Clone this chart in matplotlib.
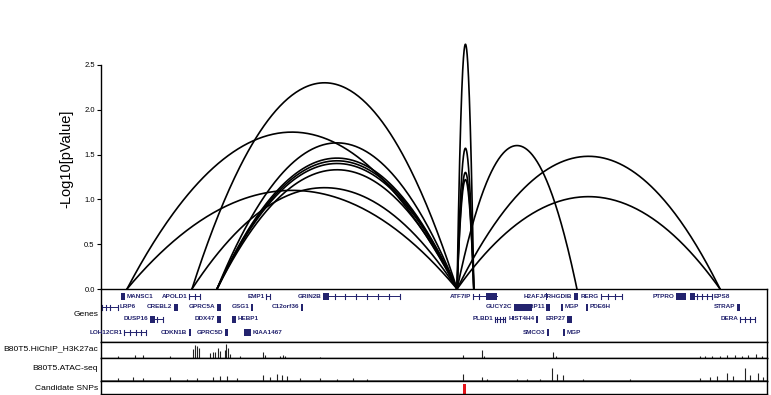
import matplotlib.pyplot as plt
import matplotlib.patches as mpatches
import numpy as np

plt.rcParams["font.family"] = ["Liberation Sans", "DejaVu Sans"]

# ---- data -------------------------------------------------------------
# interactions: anchor start / end (Mb) and -log10 p
arc_start = [12.160, 12.160, 12.560, 12.560, 12.714, 12.714, 12.714, 12.714, 12.714,
             14.192, 14.192, 14.192, 14.192, 14.192, 14.192, 14.192]
arc_end = [14.192, 14.192, 14.192, 14.192, 14.192, 14.192, 14.192, 14.192, 14.192,
           14.295, 14.295, 14.295, 14.295, 14.930, 15.811, 15.811]
arc_score = [1.75, 1.10, 2.30, 1.13, 1.63, 1.46, 1.43, 1.40, 1.33,
             2.73, 1.57, 1.30, 1.22, 1.60, 1.48, 1.03]

# genes
gene_name = ["MANSC1", "APOLD1", "EMP1", "GRIN2B", "ATF7IP", "H2AFJ", "ARHGDIB", "RERG",
             "PTPRO", "EPS8",
             "LRP6", "CREBL2", "GPRC5A", "GSG1", "C12orf36", "GUCY2C", "WBP11", "MGP",
             "PDE6H", "STRAP",
             "DUSP16", "DDX47", "HEBP1", "PLBD1", "HIST4H4", "ERP27", "DERA",
             "LOH12CR1", "CDKN1B", "GPRC5D", "KIAA1467", "SMCO3", "MGP"]
gene_row = [0] * 10 + [1] * 10 + [2] * 7 + [3] * 6
gene_start = [12.123, 12.542, 13.016, 13.367, 14.290, 14.738, 14.912, 15.078, 15.540, 15.626,
              12.006, 12.449, 12.714, 12.923, 13.231, 14.542, 14.739, 14.832, 14.986, 15.915,
              12.302, 12.714, 12.806, 14.425, 14.678, 14.869, 15.934,
              12.142, 12.542, 12.763, 12.880, 14.746, 14.844]
gene_end = [12.148, 12.609, 13.040, 13.841, 14.438, 14.745, 14.936, 15.207, 15.601, 15.761,
            12.105, 12.474, 12.739, 12.936, 13.244, 14.653, 14.764, 14.844, 14.998, 15.934,
            12.382, 12.739, 12.831, 14.487, 14.690, 14.900, 16.026,
            12.277, 12.554, 12.782, 12.923, 14.758, 14.856]
gene_label_right = ["MANSC1", "EPS8", "LRP6", "MGP", "PDE6H", "HEBP1", "KIAA1467"]
# genes drawn as intron line + exon ticks: (block start, block end, exon ticks)
gene_structure = {
    "APOLD1": (None, None, [12.542, 12.579, 12.609]),
    "EMP1": (None, None, [13.016, 13.040]),
    "GRIN2B": (13.367, 13.405, [13.441, 13.502, 13.570, 13.638, 13.705, 13.773, 13.841]),
    "ATF7IP": (14.370, 14.438, [14.290, 14.330]),
    "RERG": (None, None, [15.078, 15.121, 15.164, 15.207]),
    "EPS8": (15.626, 15.655, [15.669, 15.700, 15.730, 15.761]),
    "LRP6": (None, None, [12.006, 12.031, 12.055, 12.105]),
    "DUSP16": (12.302, 12.330, [12.345, 12.382]),
    "PLBD1": (None, None, [14.425, 14.440, 14.455, 14.475, 14.487]),
    "DERA": (None, None, [15.934, 15.965, 15.995, 16.026]),
    "LOH12CR1": (None, None, [12.142, 12.179, 12.215, 12.246, 12.277]),
}

# HiChIP H3K27ac signal peaks (Mb, relative height)
k27_pos = [12.105, 12.209, 12.259, 12.425, 12.566, 12.579, 12.591, 12.603, 12.671, 12.689,
           12.702, 12.720, 12.733, 12.763, 12.770, 12.782, 12.794, 12.856, 12.997, 13.010,
           13.102, 13.120, 13.133, 13.348, 14.229, 14.345, 14.358, 14.783, 14.801, 15.688,
           15.718, 15.761, 15.811, 15.854, 15.903, 15.946, 15.983, 16.032, 16.069]
k27_val = [0.15, 0.20, 0.20, 0.15, 0.55, 0.80, 0.75, 0.60, 0.30, 0.40,
           0.35, 0.65, 0.45, 0.50, 0.85, 0.60, 0.25, 0.15, 0.40, 0.20,
           0.15, 0.20, 0.15, 0.08, 0.20, 0.50, 0.15, 0.35, 0.15, 0.15,
           0.10, 0.15, 0.15, 0.20, 0.20, 0.15, 0.20, 0.25, 0.15]

# ATAC-seq signal peaks
atac_pos = [12.105, 12.197, 12.259, 12.425, 12.529, 12.591, 12.689, 12.733, 12.776, 12.837,
            12.997, 13.040, 13.083, 13.114, 13.145, 13.225, 13.348, 13.453, 13.551, 13.637,
            14.229, 14.345, 14.376, 14.561, 14.622, 14.702, 14.776, 14.807, 14.844, 14.967,
            15.256, 15.688, 15.749, 15.792, 15.854, 15.891, 15.965, 15.995, 16.044, 16.075]
atac_val = [0.13, 0.17, 0.13, 0.17, 0.09, 0.13, 0.17, 0.22, 0.22, 0.13,
            0.26, 0.17, 0.30, 0.26, 0.22, 0.13, 0.13, 0.09, 0.13, 0.09,
            0.30, 0.17, 0.09, 0.09, 0.09, 0.09, 0.56, 0.30, 0.26, 0.09,
            0.09, 0.13, 0.17, 0.22, 0.35, 0.22, 0.56, 0.26, 0.35, 0.17]

snp_pos = [14.235]

XMIN, XMAX = 12.0, 16.1
NAVY = "#23236e"

# ---- figure -------------------------------------------------------------
fig = plt.figure(figsize=(7.71, 3.95), dpi=100)
L, W = 101 / 771, 666 / 771


def frac(top_px, bottom_px):
    return [L, 1 - bottom_px / 395, W, (bottom_px - top_px) / 395]


ax = fig.add_axes(frac(29, 289))
ax_g = fig.add_axes(frac(289, 342))
ax_k = fig.add_axes(frac(342, 358))
ax_a = fig.add_axes(frac(358, 381))
ax_s = fig.add_axes(frac(381, 394))

# arcs
for s, e, h in zip(arc_start, arc_end, arc_score):
    xs = np.linspace(s, e, 200)
    u = (xs - (s + e) / 2) / ((e - s) / 2)
    ax.plot(xs, h * (1 - u ** 2), color="black", lw=1.2, clip_on=False)

ax.set_xlim(XMIN, XMAX)
ax.set_ylim(0, 2.9)
ax.set_yticks([0, 0.5, 1.0, 1.5, 2.0, 2.5])
ax.set_yticklabels(["0.0", "0.5", "1.0", "1.5", "2.0", "2.5"])
ax.spines["left"].set_bounds(0, 2.5)
for sp in ["top", "right", "bottom"]:
    ax.spines[sp].set_visible(False)
ax.spines["left"].set_linewidth(1.0)
ax.set_xticks([])
ax.tick_params(axis="y", labelsize=5.5, length=3, width=0.8, pad=1.5)
ax.set_ylabel("-Log10[pValue]", fontsize=10.5, labelpad=8)
ax.patch.set_alpha(0)

# tracks
for a in [ax_g, ax_k, ax_a, ax_s]:
    a.set_xlim(XMIN, XMAX)
    a.set_xticks([])
    a.set_yticks([])
    for sp in a.spines.values():
        sp.set_linewidth(1.0)

# genes
row_y = [7, 18, 30, 43]
ax_g.set_ylim(53, 0)
for name, r, s, e in zip(gene_name, gene_row, gene_start, gene_end):
    y = row_y[r]
    if name in gene_structure:
        bs, be, ticks = gene_structure[name]
        ax_g.plot([s, e], [y, y], color=NAVY, lw=0.7)
        for t in ticks:
            ax_g.plot([t, t], [y - 2.5, y + 2.5], color=NAVY, lw=0.8)
        if bs is not None:
            ax_g.add_patch(mpatches.Rectangle((bs, y - 3.5), be - bs, 7, color=NAVY, lw=0))
    else:
        ax_g.add_patch(mpatches.Rectangle((s, y - 3.5), max(e - s, 0.008), 7,
                                          color=NAVY, lw=0))
    if name in gene_label_right:
        ax_g.text(e + 0.010, y, name, fontsize=4.6, color=NAVY, fontweight="bold",
                  ha="left", va="center", clip_on=False)
    else:
        ax_g.text(s - 0.010, y, name, fontsize=4.6, color=NAVY, fontweight="bold",
                  ha="right", va="center", clip_on=False)

# signal tracks
ax_k.set_ylim(0, 1)
ax_k.vlines(k27_pos, 0, k27_val, color="#222222", lw=0.8)
ax_a.set_ylim(0, 1)
ax_a.axhline(0.04, color="#777777", lw=0.6)
ax_a.vlines(atac_pos, 0, atac_val, color="#222222", lw=0.8)

# SNPs
ax_s.set_ylim(0, 1)
for p in snp_pos:
    ax_s.add_patch(mpatches.Rectangle((p - 0.009, 0.0), 0.018, 0.8, color="#e4141b", lw=0))

# track labels
lab_x = 98 / 771
kw = dict(ha="right", va="center", fontsize=6.1)
fig.text(lab_x, 1 - 315 / 395, "Genes", **kw)
fig.text(lab_x, 1 - 349 / 395, "B80T5.HiChIP_H3K27ac", **kw)
fig.text(lab_x, 1 - 368 / 395, "B80T5.ATAC-seq", **kw)
fig.text(lab_x, 1 - 388 / 395, "Candidate SNPs", **kw)

fig.savefig("out.png", dpi=100)
